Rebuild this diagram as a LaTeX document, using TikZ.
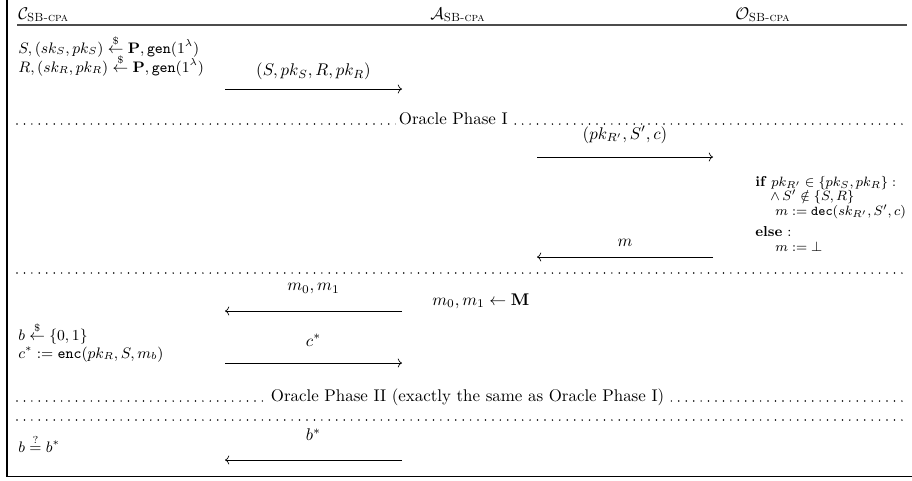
\documentclass[tikz,border=0pt]{standalone}
\usepackage{amsmath,amssymb}
\usetikzlibrary{arrows.meta,positioning}

\newcommand{\sbcpa}{\textsc{SB-cpa}}
\newcommand{\sampled}{\stackrel{\$}{\leftarrow}}

\begin{document}
\begin{tikzpicture}[x=0.5917pt, y=-0.5917pt,
    txt/.style={anchor=base west, inner sep=0pt},
    party/.style={txt, font=\small},
    orc/.style={txt, font=\fontsize{8.5}{10}\selectfont},
    msg/.style={-{To}, line width=0.4pt},
    lbl/.style={anchor=base, inner sep=0pt},
    dotrule/.style={line width=1pt, line cap=round, dash pattern=on 0pt off 4.4pt},
    phase/.style={anchor=base west, fill=white, inner xsep=1.5pt, inner ysep=1pt}
  ]
  \useasboundingbox (0,0) rectangle (912,480);
  %% --- frame and header ---
  \draw[line width=0.6pt] (7,0) -- (7,476) -- (912,476);
  \node[txt] (hC) at (18,19)  {$\mathcal{C}_{\sbcpa}$};
  \node[txt] (hA) at (430,19) {$\mathcal{A}_{\sbcpa}$};
  \node[txt] (hO) at (735,19) {$\mathcal{O}_{\sbcpa}$};
  \draw[black!70, line width=0.9pt] (17,25) -- (907,25);

  %% --- key generation ---
  \node[party] (kS) at (18,53) {$S, (sk_S, pk_S) \sampled \mathbf{P}, \mathtt{gen}(1^\lambda)$};
  \node[party] (kR) at (18,72) {$R, (sk_R, pk_R) \sampled \mathbf{P}, \mathtt{gen}(1^\lambda)$};
  \coordinate (pkC) at (225,89);
  \coordinate (pkA) at (402,89);
  \draw[msg] (pkC) -- node[lbl, yshift=7.7pt] {$(S, pk_S, R, pk_R)$} (pkA);

  %% --- oracle phase I ---
  \draw[dotrule] (17,124) -- (906,124);
  \node[phase] (ph1) at (396,124) {Oracle Phase I};
  \coordinate (qA) at (537,157);
  \coordinate (qO) at (713,157);
  \draw[msg] (qA) -- node[lbl, yshift=10.6pt] {$(pk_{R'}, S', c)$} (qO);
  % oracle answer
  \node[orc] (o1) at (755,186) {\textbf{if} $pk_{R'} \in \{pk_S, pk_R\} :$};
  \node[orc] (o2) at (770,200) {$\land\, S' \notin \{S, R\}$};
  \node[orc] (o3) at (775,215) {$m := \mathtt{dec}(sk_{R'}, S', c)$};
  \node[orc] (o4) at (755,236) {\textbf{else} :};
  \node[orc] (o5) at (775,251) {$m := \bot$};
  \coordinate (rO) at (713,257);
  \coordinate (rA) at (537,257);
  \draw[msg] (rO) -- node[lbl, yshift=6.5pt] {$m$} (rA);
  \draw[dotrule] (17,273) -- (906,273);

  %% --- challenge ---
  \node[txt] (aM) at (432,305) {$m_0, m_1 \leftarrow \mathbf{M}$};
  \coordinate (mA) at (402,311);
  \coordinate (mC) at (225,311);
  \draw[msg] (mA) -- node[lbl, yshift=12pt] {$m_0, m_1$} (mC);
  \node[party] (cb) at (18,340) {$b \sampled \{0,1\}$};
  \node[party] (cc) at (18,358) {$c^* := \mathtt{enc}(pk_R, S, m_b)$};
  \coordinate (cC) at (225,363);
  \coordinate (cA) at (402,363);
  \draw[msg] (cC) -- node[lbl, yshift=10pt] {$c^*$} (cA);

  %% --- oracle phase II ---
  \draw[dotrule] (17,401) -- (906,401);
  \node[phase] (ph2) at (268,401) {Oracle Phase II (exactly the same as Oracle Phase I)};
  \draw[dotrule] (17,420) -- (906,420);

  %% --- guess ---
  \node[party] (gb) at (18,452) {$b \stackrel{?}{=} b^*$};
  \coordinate (gA) at (402,460);
  \coordinate (gC) at (225,460);
  \draw[msg] (gA) -- node[lbl, yshift=11.5pt] {$b^*$} (gC);
\end{tikzpicture}
\end{document}
